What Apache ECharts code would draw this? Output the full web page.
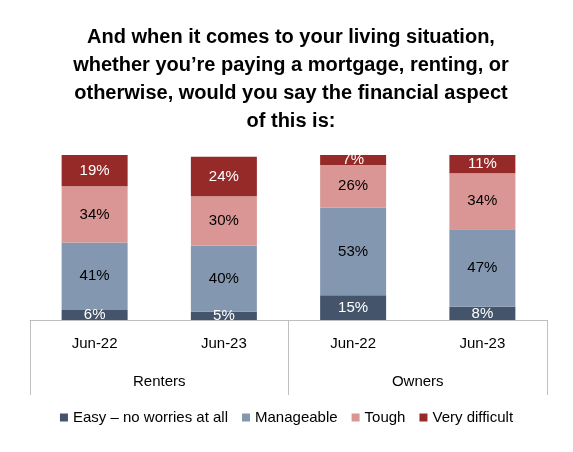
<!DOCTYPE html>
<html><head><meta charset="utf-8">
<script src="https://cdn.jsdelivr.net/npm/echarts@6/dist/echarts.min.js"></script>
<style>html,body{margin:0;padding:0;background:#fff}#c{width:573px;height:452px}</style>
</head><body><div id="c"></div>
<script>
const categories = ['Jun-22','Jun-23','Jun-22','Jun-23'];
const groups = ['Renters','Owners'];
const easy = [6,5,15,8];
const manageable = [41,40,53,47];
const tough = [34,30,26,34];
const veryDifficult = [19,24,7,11];
const names = ['Easy – no worries at all','Manageable','Tough','Very difficult'];
const colors = ['#44546A','#8497B0','#DA9694','#962A28'];
const labelColors = ['#fff','#000','#000','#fff'];
const font = 'Liberation Sans, Arial, sans-serif';
const chart = echarts.init(document.getElementById('c'));
const datas = [easy, manageable, tough, veryDifficult];
chart.setOption({
  animation:false,
  title:{text:'And when it comes to your living situation,\nwhether you’re paying a mortgage, renting, or\notherwise, would you say the financial aspect\nof this is:',
    left:286, textAlign:'center', top:18,
    textStyle:{fontFamily:font,fontSize:20,fontWeight:'bold',color:'#000',lineHeight:28}},
  legend:{bottom:22,left:'center',itemWidth:8,itemHeight:8,itemGap:14,icon:'rect',
    textStyle:{fontFamily:font,fontSize:15,color:'#000'},data:names},
  grid:{left:30,right:26,top:155,bottom:132},
  xAxis:[
    {type:'category',data:categories,axisTick:{show:false},
     axisLine:{lineStyle:{color:'#bfbfbf'}},
     axisLabel:{fontFamily:font,fontSize:15,color:'#000',margin:16}},
    {type:'category',data:groups,position:'bottom',
     axisLine:{show:false},
     axisTick:{show:true,length:75,lineStyle:{color:'#bfbfbf'}},
     axisLabel:{fontFamily:font,fontSize:15,color:'#000',margin:54}}
  ],
  yAxis:{type:'value',min:0,max:100,show:false},
  series: datas.map((d,i)=>({
    name:names[i],type:'bar',stack:'a',data:d,barWidth:66,
    itemStyle:{color:colors[i]},
    label:{show:true,position:'inside',formatter:'{c}%',fontFamily:font,fontSize:15,
      color:labelColors[i]}
  }))
});
</script></body></html>
